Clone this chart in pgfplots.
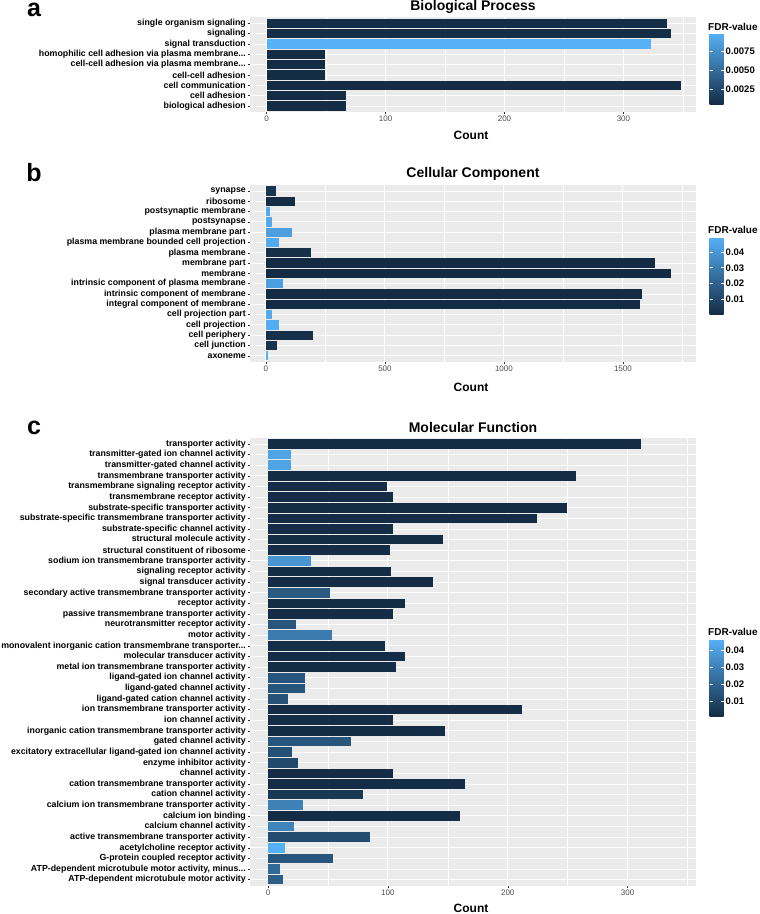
\documentclass[border=0pt]{standalone}
\usepackage{fontspec}
\setmainfont{Liberation Sans}
\setsansfont{Liberation Sans}
\usepackage{pgfplots}
\pgfplotsset{compat=1.18}
\usetikzlibrary{calc}

\definecolor{fdrlo}{HTML}{132B43}
\definecolor{fdrhi}{HTML}{56B1F7}
\definecolor{ggbg}{HTML}{EBEBEB}
\definecolor{tickgrey}{HTML}{333333}
\definecolor{textgrey}{HTML}{4D4D4D}

% one bar: #1 row, #2 count, #3 FDR (colour from \fmin..\fmax)
\newcommand\fbar[3]{%
  \pgfmathsetmacro\fpct{max(0,min(100,100*(#3-\fmin)/(\fmax-\fmin)))}%
  \edef\fdo{\noexpand\addplot[gbar, fill=fdrhi!\fpct!fdrlo] coordinates {(#2,#1)};}%
  \fdo}
\newcommand\trunc{.\kern0pt.\kern0pt.}

\pgfplotsset{
  gbar/.style={xbar, bar width=0.9, bar shift=0pt, draw=none},
  ggpanel/.style={
    scale only axis, width=446pt, anchor=south west,
    axis background/.style={fill=ggbg},
    axis line style={draw=none},
    y dir=reverse,
    tick pos=left, tick align=outside,
    major tick length=2pt, minor tick length=0pt,
    major tick style={tickgrey, line width=0.5pt},
    xmajorgrids, xminorgrids, ymajorgrids,
    major grid style={white, line width=0.9pt},
    minor grid style={white, line width=0.45pt},
    scaled x ticks=false,
    /pgf/number format/assume math mode=true,
    /pgf/number format/set thousands separator={},
    yticklabel style={font=\bfseries\fontsize{8.8}{9}\selectfont, inner xsep=2pt},
    xticklabel style={font=\fontsize{8}{9}\selectfont, text=textgrey, inner ysep=1.5pt},
    colorbar,
    colormap={fdr}{rgb255=(19,43,67) rgb255=(86,177,247)},
    point meta min=\fmin, point meta max=\fmax,
  },
  fdrbar/.style={
    anchor=south west, scale only axis, width=14pt,
    axis line style={draw=none},
    scaled y ticks=false,
    /pgf/number format/assume math mode=true,
    tick align=inside, major tick length=3pt,
    major tick style={white, line width=0.6pt},
    ytick pos=both, yticklabel pos=right,
    yticklabel style={font=\bfseries\fontsize{9.5}{10}\selectfont, inner xsep=2pt},
  },
}

\begin{document}
\begin{tikzpicture}[x=1pt,y=1pt]
\useasboundingbox (0,0) rectangle (760,914);

% ---------------- a: Biological Process
\def\fmin{0.0004}\def\fmax{0.0099}
\begin{axis}[ggpanel, at={(250pt,801.8pt)}, height=95.1pt,
  xmin=-14, xmax=361, ymin=0.4, ymax=9.6,
  xtick={0,100,200,300}, minor xtick={50,150,250,350},
  ytick={1,2,3,4,5,6,7,8,9},
  yticklabels={single organism signaling, signaling, signal transduction,
    homophilic cell adhesion via plasma membrane\trunc, cell-cell adhesion via plasma membrane\trunc,
    cell-cell adhesion, cell communication, cell adhesion, biological adhesion},
  colorbar style={fdrbar, at={($(parent axis.south east)+(5pt,7.2pt)$)}, height=72pt,
    ytick={0.0025,0.005,0.0075},
    yticklabel style={/pgf/number format/fixed, /pgf/number format/fixed zerofill, /pgf/number format/precision=4}},
]
\fbar{1}{337}{0.0006}
\fbar{2}{340}{0.0006}
\fbar{3}{323}{0.0099}
\fbar{4}{49}{0.0005}
\fbar{5}{49}{0.0005}
\fbar{6}{49}{0.0005}
\fbar{7}{348}{0.0005}
\fbar{8}{67}{0.0005}
\fbar{9}{67}{0.0005}
\end{axis}

% ---------------- b: Cellular Component
\def\fmin{0.0001}\def\fmax{0.0495}
\begin{axis}[ggpanel, at={(250pt,552pt)}, height=177.2pt,
  xmin=-67, xmax=1807, ymin=0.4, ymax=17.6,
  xtick={0,500,1000,1500}, minor xtick={250,750,1250,1750},
  ytick={1,2,3,4,5,6,7,8,9,10,11,12,13,14,15,16,17},
  yticklabels={synapse, ribosome, postsynaptic membrane, postsynapse, plasma membrane part,
    plasma membrane bounded cell projection, plasma membrane, membrane part, membrane,
    intrinsic component of plasma membrane, intrinsic component of membrane,
    integral component of membrane, cell projection part, cell projection, cell periphery,
    cell junction, axoneme},
  colorbar style={fdrbar, at={($(parent axis.south east)+(5pt,47pt)$)}, height=78pt,
    ytick={0.01,0.02,0.03,0.04},
    yticklabel style={/pgf/number format/fixed, /pgf/number format/fixed zerofill, /pgf/number format/precision=2}},
]
\fbar{1}{43}{0.004}
\fbar{2}{124}{0.0005}
\fbar{3}{19}{0.047}
\fbar{4}{27}{0.047}
\fbar{5}{110}{0.043}
\fbar{6}{53}{0.047}
\fbar{7}{191}{0.002}
\fbar{8}{1633}{0.0001}
\fbar{9}{1702}{0.0001}
\fbar{10}{70}{0.043}
\fbar{11}{1580}{0.0001}
\fbar{12}{1572}{0.0001}
\fbar{13}{25}{0.047}
\fbar{14}{55}{0.048}
\fbar{15}{199}{0.002}
\fbar{16}{47}{0.003}
\fbar{17}{10}{0.0495}
\end{axis}

% ---------------- c: Molecular Function
\def\fmin{0.0006}\def\fmax{0.0465}
\begin{axis}[ggpanel, at={(250pt,28pt)}, height=448.4pt,
  xmin=-15, xmax=357, ymin=0.4, ymax=42.6,
  xtick={0,100,200,300}, minor xtick={50,150,250,350},
  ytick={1,2,3,4,5,6,7,8,9,10,11,12,13,14,15,16,17,18,19,20,21,22,23,24,25,26,27,28,29,30,31,32,33,34,35,36,37,38,39,40,41,42},
  yticklabels={transporter activity, transmitter-gated ion channel activity,
    transmitter-gated channel activity, transmembrane transporter activity,
    transmembrane signaling receptor activity, transmembrane receptor activity,
    substrate-specific transporter activity, substrate-specific transmembrane transporter activity,
    substrate-specific channel activity, structural molecule activity,
    structural constituent of ribosome, sodium ion transmembrane transporter activity,
    signaling receptor activity, signal transducer activity,
    secondary active transmembrane transporter activity, receptor activity,
    passive transmembrane transporter activity, neurotransmitter receptor activity,
    motor activity, monovalent inorganic cation transmembrane transporter\trunc,
    molecular transducer activity, metal ion transmembrane transporter activity,
    ligand-gated ion channel activity, ligand-gated channel activity,
    ligand-gated cation channel activity, ion transmembrane transporter activity,
    ion channel activity, inorganic cation transmembrane transporter activity,
    gated channel activity, excitatory extracellular ligand-gated ion channel activity,
    enzyme inhibitor activity, channel activity, cation transmembrane transporter activity,
    cation channel activity, calcium ion transmembrane transporter activity,
    calcium ion binding, calcium channel activity, active transmembrane transporter activity,
    acetylcholine receptor activity, G-protein coupled receptor activity,
    {ATP-dependent microtubule motor activity, minus\trunc},
    ATP-dependent microtubule motor activity},
  colorbar style={fdrbar, at={($(parent axis.south east)+(5pt,169pt)$)}, height=78pt,
    ytick={0.01,0.02,0.03,0.04},
    yticklabel style={/pgf/number format/fixed, /pgf/number format/fixed zerofill, /pgf/number format/precision=2}},
]
\fbar{1}{311}{0.001}
\fbar{2}{19}{0.042}
\fbar{3}{19}{0.042}
\fbar{4}{257}{0.001}
\fbar{5}{99}{0.001}
\fbar{6}{104}{0.001}
\fbar{7}{249}{0.001}
\fbar{8}{224}{0.001}
\fbar{9}{104}{0.001}
\fbar{10}{146}{0.001}
\fbar{11}{102}{0.001}
\fbar{12}{36}{0.037}
\fbar{13}{103}{0.001}
\fbar{14}{138}{0.001}
\fbar{15}{52}{0.017}
\fbar{16}{114}{0.001}
\fbar{17}{104}{0.001}
\fbar{18}{23}{0.015}
\fbar{19}{53}{0.028}
\fbar{20}{98}{0.002}
\fbar{21}{114}{0.001}
\fbar{22}{107}{0.001}
\fbar{23}{31}{0.015}
\fbar{24}{31}{0.015}
\fbar{25}{17}{0.014}
\fbar{26}{212}{0.001}
\fbar{27}{104}{0.001}
\fbar{28}{148}{0.001}
\fbar{29}{69}{0.015}
\fbar{30}{20}{0.013}
\fbar{31}{25}{0.011}
\fbar{32}{104}{0.001}
\fbar{33}{164}{0.001}
\fbar{34}{79}{0.005}
\fbar{35}{29.5}{0.030}
\fbar{36}{160}{0.001}
\fbar{37}{21.4}{0.031}
\fbar{38}{85}{0.012}
\fbar{39}{14}{0.046}
\fbar{40}{54.6}{0.015}
\fbar{41}{9.8}{0.022}
\fbar{42}{12.5}{0.018}
\end{axis}

% ---------------- titles and labels
\node[inner sep=0pt, font=\bfseries\fontsize{25}{27}\selectfont] at (34,904.5) {a};
\node[inner sep=0pt, font=\bfseries\fontsize{25}{27}\selectfont] at (34,741) {b};
\node[inner sep=0pt, font=\bfseries\fontsize{25}{27}\selectfont] at (34,486) {c};
\node[inner sep=0pt, font=\bfseries\fontsize{14}{16}\selectfont] at (473,907) {Biological Process};
\node[font=\bfseries\fontsize{14}{16}\selectfont] at (473,740) {Cellular Component};
\node[font=\bfseries\fontsize{14}{16}\selectfont] at (473,486.3) {Molecular Function};
\node[font=\bfseries\fontsize{12}{14}\selectfont] at (471,779) {Count};
\node[font=\bfseries\fontsize{12}{14}\selectfont] at (471,527) {Count};
\node[inner sep=0pt, font=\bfseries\fontsize{12}{14}\selectfont] at (471,6) {Count};
\node[anchor=west, inner sep=0pt, font=\bfseries\fontsize{10}{12}\selectfont] at (708,887) {FDR-value};
\node[anchor=west, inner sep=0pt, font=\bfseries\fontsize{10}{12}\selectfont] at (708,684) {FDR-value};
\node[anchor=west, inner sep=0pt, font=\bfseries\fontsize{10}{12}\selectfont] at (708,282.3) {FDR-value};
\end{tikzpicture}
\end{document}
